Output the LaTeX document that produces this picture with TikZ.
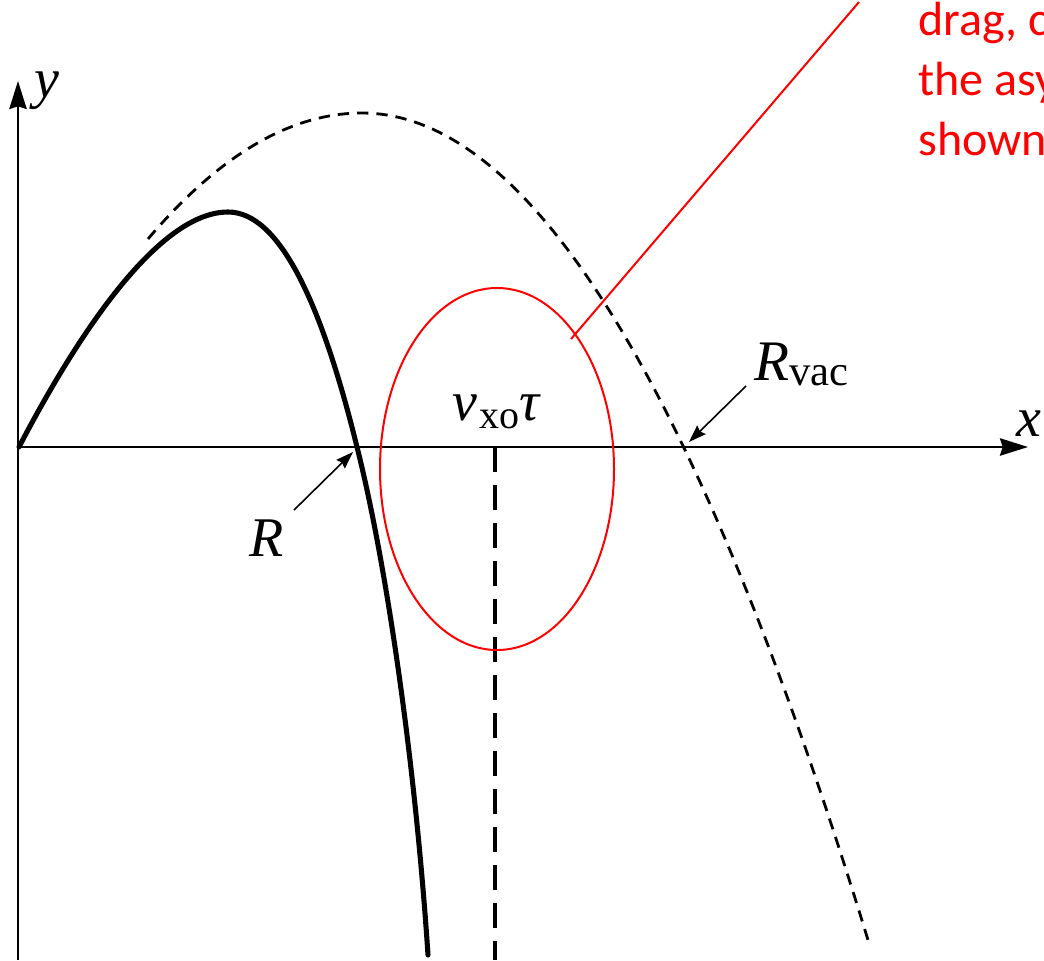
\documentclass[tikz,border=0pt]{standalone}
\usepackage{fontspec}
\setmainfont{Liberation Serif}
\newfontfamily\calib{Carlito}
\usetikzlibrary{arrows.meta,shapes.geometric}
\tikzset{
  axis/.style={line width=1.6pt,-{Stealth[length=21pt,width=13pt,inset=2pt]}},
  traj/.style={line width=3.8pt,line cap=round,line join=round},
  vac/.style={line width=2.1pt,dash pattern=on 8.5pt off 6pt},
  asym/.style={line width=2.5pt,dash pattern=on 19pt off 9.5pt},
  pointer/.style={line width=1.2pt,-{Stealth[length=13pt,width=9pt,inset=1.5pt]}},
  lbl/.style={inner sep=0pt,font=\fontsize{42}{48}\selectfont\itshape},
  note/.style={inner sep=0pt,anchor=base west,text=red,font=\calib\fontsize{36}{43}\selectfont},
  hl/.style={draw=red,line width=1.5pt}
}
\begin{document}
\begin{tikzpicture}[x=0.75pt,y=-0.75pt]
\useasboundingbox (0,0) rectangle (1044,960);
% axes
\coordinate (O) at (18,447);
\coordinate (ybot) at (18,960);
\coordinate (ytip) at (18,81);
\coordinate (xtip) at (1028,447);
\draw[axis] (ybot) -- (ytip);
\draw[axis] (O) -- (xtip);
\node[lbl] (ylab) at (47,91) {y};
\node[lbl] (xlab) at (1029,424) {x};
% vacuum trajectory (dashed)
\draw[vac] plot[domain=-2.14:0,samples=40] ({362+100*\x},{113+27.5*\x*\x})
  -- plot[domain=0:5.06,samples=80] ({362+100*\x},{113+32.3*\x*\x});
% trajectory with drag
\coordinate (S0) at (19,447);
\coordinate (Speak) at (228,212);
\coordinate (SR) at (357,447);
\coordinate (Send) at (428,955);
\draw[traj] (S0) .. controls (80,330) and (160,212) .. (Speak)
  .. controls (280,212) and (322,305) .. (SR)
  .. controls (386,562) and (415,760) .. (Send);
% asymptote
\coordinate (asTop) at (495,447);
\coordinate (asBot) at (495,960);
\draw[asym] (asTop) -- (asBot);
\node[inner sep=0pt,anchor=base] (vlab) at (496,420) {\fontsize{42}{48}\selectfont\itshape v\kern1pt\raisebox{-6pt}{\upshape\fontsize{30}{34}\selectfont xo}τ};
% labels R and Rvac
\node[lbl,anchor=base] (Rlab) at (267,556) {R};
\coordinate (Rtail) at (294,510);
\coordinate (Rtip) at (353,452);
\draw[pointer] (Rtail) -- (Rtip);
\node[inner sep=0pt,anchor=base west] (Rvlab) at (754,380) {\fontsize{43}{48}\selectfont\itshape R\raisebox{-4pt}{\upshape\fontsize{32}{36}\selectfont vac}};
\coordinate (RVtail) at (746,386);
\coordinate (RVtip) at (689,442);
\draw[pointer] (RVtail) -- (RVtip);
% red annotation
\node[hl,ellipse,inner sep=0pt,minimum width=175.5pt,minimum height=271.5pt] (ell) at (497,469) {};
\coordinate (lineA) at (571,339);
\coordinate (lineB) at (859,2);
\draw[red,line width=1.5pt] (lineA) -- (lineB);
\node[note] (t1) at (918,35) {drag, c};
\node[note] (t2) at (918,95) {the asy};
\node[note] (t3) at (918,155) {shown};
\end{tikzpicture}
\end{document}
